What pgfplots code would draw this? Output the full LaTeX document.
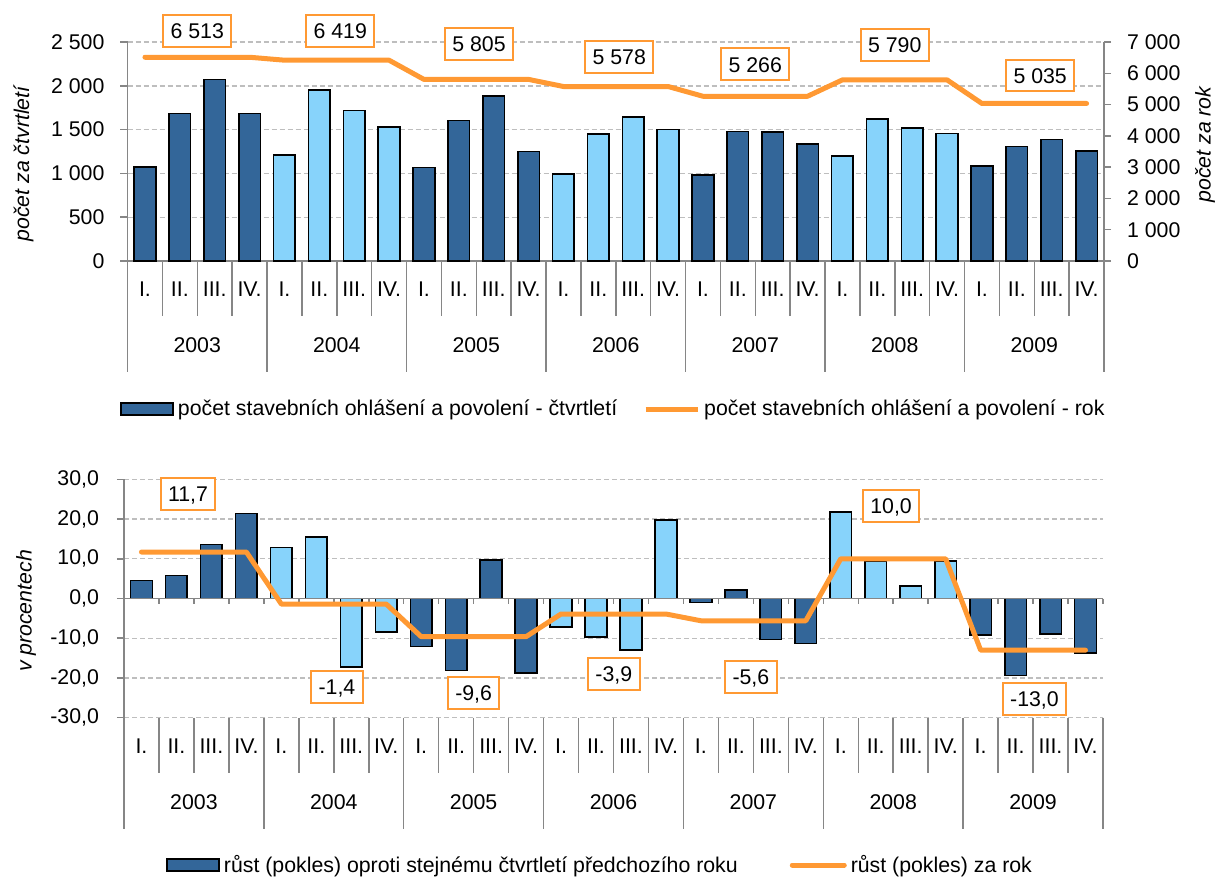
\documentclass[border=0pt]{standalone}
\usepackage{pgfplots}
\pgfplotsset{compat=1.18}
\usepackage{pgfplotstable}
\usepackage{fontspec}
\setmainfont{Liberation Sans}
\definecolor{darkb}{RGB}{51,102,153}
\definecolor{lightb}{RGB}{135,211,251}
\definecolor{orng}{RGB}{255,153,51}
\definecolor{axgray}{RGB}{134,134,134}
\definecolor{gridgray}{RGB}{190,190,190}
\newcommand{\f}{\fontsize{10.65}{13}\selectfont}

% quarterly counts (odd years dark, even years light)
\pgfplotstableread{
x y
0 1075
1 1685
2 2071
3 1682
8 1068
9 1605
10 1882
11 1250
16 980
17 1478
18 1475
19 1333
24 1086
25 1305
26 1386
27 1258
}\topdark
\pgfplotstableread{
x y
4 1212
5 1955
6 1720
7 1532
12 990
13 1447
14 1641
15 1500
20 1196
21 1619
22 1520
23 1455
}\toplight
\pgfplotstableread{
x y
0 6513
1 6513
2 6513
3 6513
4 6419
5 6419
6 6419
7 6419
8 5805
9 5805
10 5805
11 5805
12 5578
13 5578
14 5578
15 5578
16 5266
17 5266
18 5266
19 5266
20 5790
21 5790
22 5790
23 5790
24 5035
25 5035
26 5035
27 5035
}\topyear
\pgfplotstableread{
x y
0 4.5
1 5.8
2 13.6
3 21.4
8 -12.1
9 -18.1
10 9.7
11 -18.7
16 -1.0
17 2.2
18 -10.3
19 -11.3
24 -9.2
25 -19.4
26 -8.9
27 -13.7
}\botdark
\pgfplotstableread{
x y
4 12.8
5 15.5
6 -17.2
7 -8.5
12 -7.1
13 -9.7
14 -13.0
15 19.7
20 21.7
21 9.3
22 3.1
23 9.5
}\botlight
\pgfplotstableread{
x y
0 11.7
1 11.7
2 11.7
3 11.7
4 -1.4
5 -1.4
6 -1.4
7 -1.4
8 -9.6
9 -9.6
10 -9.6
11 -9.6
12 -3.9
13 -3.9
14 -3.9
15 -3.9
16 -5.6
17 -5.6
18 -5.6
19 -5.6
20 10.0
21 10.0
22 10.0
23 10.0
24 -13.0
25 -13.0
26 -13.0
27 -13.0
}\botyear

\tikzset{
  sep/.style={axgray, line width=0.75pt},
  lab/.style={draw=orng, line width=1pt, fill=white, inner xsep=3.7pt, inner ysep=4pt, text height=7.9pt, text depth=0pt, font=\f},
  qlab/.style={font=\f, inner sep=0pt, anchor=center},
}
\pgfplotsset{
  base/.style={
    scale only axis, clip=false,
    xmin=-0.5, xmax=27.5,
    xtick=\empty,
    tick label style={font=\f},
    label style={font=\f\itshape},
    /pgf/number format/assume math mode=true,
    axis line style={axgray, line width=0.75pt},
    tick style={axgray, line width=0.75pt},
    tick align=outside,
    major tick length=3.5pt,
    major grid style={gridgray, line width=0.7pt, dash pattern=on 2.5pt off 1.5pt},
    legend style={font=\f, draw=none, fill=none, inner sep=0pt, legend columns=2},
    legend cell align=left,
  },
  barsty/.style={ybar, bar width=0.62, bar shift=0pt, draw=black, line width=0.8pt},
  linesty/.style={orng, line width=2.5pt, line join=round, line cap=round},
}

\begin{document}
\begin{tikzpicture}
\useasboundingbox (0,0) rectangle (608pt,-439pt);

% ================= TOP: left axis with bars =================
\begin{axis}[base,
  at={(63.75pt,-130.5pt)}, anchor=south west,
  width=488.25pt, height=109.5pt,
  ymin=0, ymax=2500,
  ytick={0,500,...,2500},
  ymajorgrids,
  axis x line*=bottom, axis y line*=left,
  yticklabel style={xshift=-4.5pt},
  /pgf/number format/1000 sep={\ },
  ylabel={počet za čtvrtletí},
  ylabel style={at={(axis description cs:-0.1065,0.443)}, anchor=center},
  legend style={at={(axis description cs:-0.0077,-0.676)}, anchor=west,
    /tikz/every even column/.append style={column sep=11pt}},
]
\addplot[barsty, fill=darkb,
  legend image code/.code={\draw[black, line width=0.8pt, fill=darkb] (0pt,-3pt) rectangle (26pt,3pt);}]
  table[x=x,y=y]{\topdark};
\addlegendentry{počet stavebních ohlášení a povolení - čtvrtletí}
\addplot[barsty, fill=lightb, forget plot] table[x=x,y=y]{\toplight};
\addlegendimage{orng, line width=2.5pt, legend image code/.code={\draw[orng, line width=2.5pt] (0pt,0pt) -- (26pt,0pt);}}
\addlegendentry{počet stavebních ohlášení a povolení - rok}

% category table
\pgfplotsinvokeforeach{0.5,1.5,2.5,4.5,5.5,6.5,8.5,9.5,10.5,12.5,13.5,14.5,16.5,17.5,18.5,20.5,21.5,22.5,24.5,25.5,26.5}{
  \draw[sep] (axis cs:#1,0) -- ++(0pt,-27.5pt);}
\pgfplotsinvokeforeach{-0.5,3.5,7.5,11.5,15.5,19.5,23.5,27.5}{
  \draw[sep] (axis cs:#1,0) -- ++(0pt,-55.5pt);}
\pgfplotsinvokeforeach{0,4,8,12,16,20,24}{\node[qlab] at ([yshift=-14pt]axis cs:#1,0) {I.};}
\pgfplotsinvokeforeach{1,5,9,13,17,21,25}{\node[qlab] at ([yshift=-14pt]axis cs:#1,0) {II.};}
\pgfplotsinvokeforeach{2,6,10,14,18,22,26}{\node[qlab] at ([yshift=-14pt]axis cs:#1,0) {III.};}
\pgfplotsinvokeforeach{3,7,11,15,19,23,27}{\node[qlab] at ([yshift=-14pt]axis cs:#1,0) {IV.};}
\node[qlab] at ([yshift=-42pt]axis cs:1.5,0) {2003};
\node[qlab] at ([yshift=-42pt]axis cs:5.5,0) {2004};
\node[qlab] at ([yshift=-42pt]axis cs:9.5,0) {2005};
\node[qlab] at ([yshift=-42pt]axis cs:13.5,0) {2006};
\node[qlab] at ([yshift=-42pt]axis cs:17.5,0) {2007};
\node[qlab] at ([yshift=-42pt]axis cs:21.5,0) {2008};
\node[qlab] at ([yshift=-42pt]axis cs:25.5,0) {2009};
\end{axis}

% ================= TOP: right axis with annual line =================
\begin{axis}[base,
  at={(63.75pt,-130.5pt)}, anchor=south west,
  width=488.25pt, height=109.5pt,
  ymin=0, ymax=7000,
  ytick={0,1000,...,7000},
  axis x line=none, axis y line*=right,
  yticklabel style={xshift=4.5pt},
  /pgf/number format/1000 sep={\ },
  ylabel={počet za rok},
  ylabel style={at={(axis description cs:1.1034,0.532)}, anchor=center},
]
\addplot[linesty] table[x=x,y=y]{\topyear};
\node[lab] at (axis cs:1.5,7353) {6 513};
\node[lab] at (axis cs:5.6,7353) {6 419};
\node[lab] at (axis cs:9.58,6947) {5 805};
\node[lab] at (axis cs:13.6,6532) {5 578};
\node[lab] at (axis cs:17.5,6286) {5 266};
\node[lab] at (axis cs:21.5,6905) {5 790};
\node[lab] at (axis cs:25.67,5930) {5 035};
\end{axis}

% ================= BOTTOM =================
\begin{axis}[base,
  at={(62pt,-358.85pt)}, anchor=south west,
  width=489.5pt, height=119.2pt,
  ymin=-30, ymax=30,
  ytick={-30,-20,...,30},
  ymajorgrids,
  axis x line=none, axis y line*=left,
  yticklabel style={xshift=-5.5pt},
  /pgf/number format/fixed,
  /pgf/number format/fixed zerofill,
  /pgf/number format/precision=1,
  /pgf/number format/use comma,
  ylabel={v procentech},
  ylabel style={at={(axis description cs:-0.1001,0.4476)}, anchor=center},
  legend style={at={(axis description cs:0.0429,-0.618)}, anchor=west,
    /tikz/every even column/.append style={column sep=24pt}},
]
\addplot[barsty, fill=darkb,
  legend image code/.code={\draw[black, line width=0.8pt, fill=darkb] (0pt,-3pt) rectangle (26pt,3pt);}]
  table[x=x,y=y]{\botdark};
\addlegendentry{růst (pokles) oproti stejnému čtvrtletí předchozího roku}
\addplot[barsty, fill=lightb, forget plot] table[x=x,y=y]{\botlight};
% zero line with ticks
\draw[sep] (axis cs:-0.5,0) -- (axis cs:27.5,0);
\pgfplotsinvokeforeach{-0.5,0.5,1.5,2.5,3.5,4.5,5.5,6.5,7.5,8.5,9.5,10.5,11.5,12.5,13.5,14.5,15.5,16.5,17.5,18.5,19.5,20.5,21.5,22.5,23.5,24.5,25.5,26.5,27.5}{
  \draw[sep] (axis cs:#1,0) -- ++(0pt,-2.5pt);}
\addplot[linesty, legend image code/.code={\draw[orng, line width=2.5pt] (0pt,0pt) -- (26pt,0pt);}] table[x=x,y=y]{\botyear};
\addlegendentry{růst (pokles) za rok}

% category table
\pgfplotsinvokeforeach{0.5,1.5,2.5,4.5,5.5,6.5,8.5,9.5,10.5,12.5,13.5,14.5,16.5,17.5,18.5,20.5,21.5,22.5,24.5,25.5,26.5}{
  \draw[sep] (axis cs:#1,-30) -- ++(0pt,-27.5pt);}
\pgfplotsinvokeforeach{-0.5,3.5,7.5,11.5,15.5,19.5,23.5,27.5}{
  \draw[sep] (axis cs:#1,-30) -- ++(0pt,-55.5pt);}
\pgfplotsinvokeforeach{0,4,8,12,16,20,24}{\node[qlab] at ([yshift=-14.3pt]axis cs:#1,-30) {I.};}
\pgfplotsinvokeforeach{1,5,9,13,17,21,25}{\node[qlab] at ([yshift=-14.3pt]axis cs:#1,-30) {II.};}
\pgfplotsinvokeforeach{2,6,10,14,18,22,26}{\node[qlab] at ([yshift=-14.3pt]axis cs:#1,-30) {III.};}
\pgfplotsinvokeforeach{3,7,11,15,19,23,27}{\node[qlab] at ([yshift=-14.3pt]axis cs:#1,-30) {IV.};}
\node[qlab] at ([yshift=-42pt]axis cs:1.5,-30) {2003};
\node[qlab] at ([yshift=-42pt]axis cs:5.5,-30) {2004};
\node[qlab] at ([yshift=-42pt]axis cs:9.5,-30) {2005};
\node[qlab] at ([yshift=-42pt]axis cs:13.5,-30) {2006};
\node[qlab] at ([yshift=-42pt]axis cs:17.5,-30) {2007};
\node[qlab] at ([yshift=-42pt]axis cs:21.5,-30) {2008};
\node[qlab] at ([yshift=-42pt]axis cs:25.5,-30) {2009};

\node[lab] at (axis cs:1.33,26.3) {11,7};
\node[lab] at (axis cs:5.59,-22.2) {-1,4};
\node[lab] at (axis cs:9.5,-23.8) {-9,6};
\node[lab] at (axis cs:13.51,-18.9) {-3,9};
\node[lab] at (axis cs:17.43,-19.7) {-5,6};
\node[lab] at (axis cs:21.44,23.3) {10,0};
\node[lab] at (axis cs:25.54,-25.2) {-13,0};
\end{axis}
\end{tikzpicture}
\end{document}
